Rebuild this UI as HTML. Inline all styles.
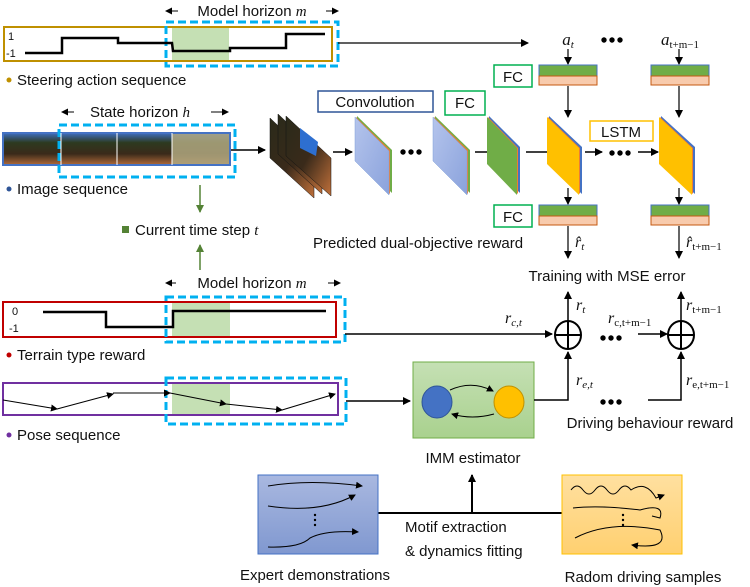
<!DOCTYPE html>
<html><head><meta charset="utf-8"><style>
html,body{margin:0;padding:0;background:#fff;}
svg{display:block;font-family:"Liberation Sans",sans-serif;}
.t{font-size:15px;fill:#111;}
.m{font-family:"Liberation Serif",serif;font-style:italic;fill:#111;}
</style></head><body>
<svg width="750" height="587" viewBox="0 0 750 587" xmlns="http://www.w3.org/2000/svg">
<defs>
<marker id="a" markerWidth="8" markerHeight="8" refX="7" refY="4" orient="auto" markerUnits="userSpaceOnUse"><path d="M0,0 L8,4 L0,8 z" fill="#000"/></marker>
<marker id="g" markerWidth="8" markerHeight="8" refX="7" refY="4" orient="auto" markerUnits="userSpaceOnUse"><path d="M0,0 L8,4 L0,8 z" fill="#548235"/></marker>
<marker id="s" markerWidth="7" markerHeight="7" refX="6" refY="3.5" orient="auto" markerUnits="userSpaceOnUse"><path d="M0,0 L7,3.5 L0,7 z" fill="#000"/></marker>
<linearGradient id="imgg" x1="0" y1="0" x2="0" y2="1"><stop offset="0" stop-color="#3f6fc0"/><stop offset="0.3" stop-color="#2d3a20"/><stop offset="0.65" stop-color="#3a2a1a"/><stop offset="1" stop-color="#b06a3a"/></linearGradient>
<linearGradient id="stk" x1="0" y1="0" x2="1" y2="1"><stop offset="0" stop-color="#2a2a1a"/><stop offset="0.5" stop-color="#3a2a1a"/><stop offset="1" stop-color="#c0703a"/></linearGradient>
<linearGradient id="imm" x1="0" y1="0" x2="0" y2="1"><stop offset="0" stop-color="#c5e0b4"/><stop offset="1" stop-color="#a9d18e"/></linearGradient>
<linearGradient id="exp" x1="0" y1="0" x2="0" y2="1"><stop offset="0" stop-color="#a9b8e0"/><stop offset="1" stop-color="#8098d0"/></linearGradient>
<linearGradient id="rnd" x1="0" y1="0" x2="0" y2="1"><stop offset="0" stop-color="#ffe0a0"/><stop offset="1" stop-color="#ffd070"/></linearGradient>
<linearGradient id="conv" x1="0" y1="0" x2="1" y2="1"><stop offset="0" stop-color="#b4c4ec"/><stop offset="1" stop-color="#8aa2dc"/></linearGradient>
</defs>

<!-- Steering -->
<text x="252" y="16" class="t" text-anchor="middle">Model horizon <tspan class="m">m</tspan></text>
<line x1="178" y1="11" x2="166" y2="11" stroke="#000" marker-end="url(#s)"/>
<line x1="326" y1="11" x2="338" y2="11" stroke="#000" marker-end="url(#s)"/>
<rect x="172" y="28" width="57" height="32" fill="#c5e0b4"/>
<rect x="4" y="27" width="328" height="34" fill="none" stroke="#bf9000" stroke-width="2"/>
<rect x="166" y="22" width="172" height="44" fill="none" stroke="#00b0f0" stroke-width="3" stroke-dasharray="8,4"/>
<text x="8" y="40" font-size="11" fill="#111">1</text>
<text x="6" y="57" font-size="11" fill="#111">-1</text>
<polyline points="25,53 62,53 62,38 118,38 118,43 172,43 173,51 230,51 230,48 286,48 286,34 325,34" fill="none" stroke="#000" stroke-width="2.5"/>
<line x1="338" y1="43" x2="528" y2="43" stroke="#000" stroke-width="1.2" marker-end="url(#a)"/>
<circle cx="9" cy="80" r="2.5" fill="#bf9000"/>
<text x="17" y="85" class="t">Steering action sequence</text>

<!-- Image seq -->
<text x="140" y="117" class="t" text-anchor="middle">State horizon <tspan class="m">h</tspan></text>
<line x1="74" y1="112" x2="62" y2="112" stroke="#000" marker-end="url(#s)"/>
<line x1="211" y1="112" x2="228" y2="112" stroke="#000" marker-end="url(#s)"/>
<rect x="3" y="133" width="227" height="32" fill="url(#imgg)" stroke="#4472c4" stroke-width="2"/>
<rect x="172" y="134" width="57" height="30" fill="#b0a880" opacity="0.85"/>
<line x1="61" y1="133" x2="61" y2="165" stroke="#fff"/><line x1="117" y1="133" x2="117" y2="165" stroke="#fff"/><line x1="172" y1="133" x2="172" y2="165" stroke="#fff"/>
<rect x="59" y="125" width="176" height="52" fill="none" stroke="#00b0f0" stroke-width="3" stroke-dasharray="8,4"/>
<circle cx="9" cy="189" r="2.5" fill="#2f5597"/>
<text x="17" y="194" class="t">Image sequence</text>
<line x1="231" y1="150" x2="265" y2="150" stroke="#000" stroke-width="1.5" marker-end="url(#a)"/>

<line x1="200" y1="185" x2="200" y2="212" stroke="#548235" stroke-width="1.5" marker-end="url(#g)"/>
<rect x="122" y="226" width="7" height="7" fill="#548235"/>
<text x="135" y="235" class="t">Current time step <tspan class="m">t</tspan></text>
<line x1="200" y1="270" x2="200" y2="245" stroke="#548235" stroke-width="1.5" marker-end="url(#g)"/>

<!-- image stack -->
<g>
<polygon points="270,118 314,160 314,198 270,158" fill="url(#stk)" stroke="#111" stroke-width="0.5"/>
<polygon points="278,114 322,156 322,194 278,154" fill="url(#stk)" stroke="#111" stroke-width="0.5"/>
<polygon points="286,116 331,158 331,196 286,156" fill="url(#stk)" stroke="#111" stroke-width="0.5"/>
<polygon points="300,128 318,142 316,156 300,148" fill="#2e6fd0"/>
</g>
<line x1="333" y1="152" x2="352" y2="152" stroke="#000" stroke-width="1.5" marker-end="url(#a)"/>

<!-- conv layers -->
<rect x="318" y="91" width="115" height="21" fill="#fff" stroke="#2f5597" stroke-width="1.5"/>
<text x="375" y="107" class="t" text-anchor="middle">Convolution</text>
<polygon points="357,116 392,150 392,193 357,159" fill="#70ad47"/>
<polygon points="356,117 390,150 390,194 356,160" fill="#ed7d31"/>
<polygon points="355,117 389,151 389,195 355,161" fill="url(#conv)" stroke="#7f9fd8" stroke-width="0.5"/>
<circle cx="403" cy="152" r="2.7"/><circle cx="411" cy="152" r="2.7"/><circle cx="419" cy="152" r="2.7"/>
<polygon points="435,116 470,150 470,193 435,159" fill="#70ad47"/>
<polygon points="434,117 468,150 468,194 434,160" fill="#ed7d31"/>
<polygon points="433,117 467,151 467,195 433,161" fill="url(#conv)" stroke="#7f9fd8" stroke-width="0.5"/>
<line x1="475" y1="152" x2="497" y2="152" stroke="#000" stroke-width="1.5" marker-end="url(#a)"/>
<rect x="445" y="91" width="40" height="24" fill="#fff" stroke="#00b050" stroke-width="1.5"/>
<text x="465" y="108" class="t" text-anchor="middle">FC</text>
<polygon points="489,116 520,147 520,193 489,162" fill="#4472c4"/>
<polygon points="488,117 518,148 518,194 488,163" fill="#ed7d31"/>
<polygon points="487,117 517,148 517,195 487,164" fill="#70ad47"/>
<line x1="526" y1="152" x2="555" y2="152" stroke="#000" stroke-width="1.5" marker-end="url(#a)"/>
<!-- yellow LSTM -->
<polygon points="549,116 582,147 582,194 549,163" fill="#4472c4"/>
<polygon points="548,117 580,148 580,194 548,164" fill="#ed7d31"/>
<polygon points="547,117 579,148 579,195 547,164" fill="#ffc000"/>
<line x1="585" y1="152" x2="602" y2="152" stroke="#000" stroke-width="1.5" marker-end="url(#a)"/>
<circle cx="612" cy="153" r="2.7"/><circle cx="620" cy="153" r="2.7"/><circle cx="628" cy="153" r="2.7"/>
<line x1="638" y1="152" x2="658" y2="152" stroke="#000" stroke-width="1.5" marker-end="url(#a)"/>
<polygon points="661,116 695,147 695,194 661,163" fill="#4472c4"/>
<polygon points="660,117 693,148 693,194 660,164" fill="#ed7d31"/>
<polygon points="659,117 692,148 692,195 659,164" fill="#ffc000"/>
<rect x="590" y="121" width="63" height="20" fill="#fff" stroke="#ffc000" stroke-width="1.5"/>
<text x="621" y="137" class="t" text-anchor="middle">LSTM</text>

<!-- FC top -->
<text x="568" y="45" font-size="17" class="m" text-anchor="middle">a<tspan font-size="11" dy="3">t</tspan></text>
<circle cx="604" cy="40" r="2.7"/><circle cx="612" cy="40" r="2.7"/><circle cx="620" cy="40" r="2.7"/>
<text x="680" y="45" font-size="17" class="m" text-anchor="middle">a<tspan font-size="11" dy="3" font-style="normal">t+m−1</tspan></text>
<line x1="568" y1="49" x2="568" y2="64" stroke="#000" stroke-width="1.2" marker-end="url(#a)"/>
<line x1="679" y1="49" x2="679" y2="64" stroke="#000" stroke-width="1.2" marker-end="url(#a)"/>
<rect x="494" y="65" width="38" height="22" fill="#fff" stroke="#00b050" stroke-width="1.5"/>
<text x="513" y="82" class="t" text-anchor="middle">FC</text>
<g stroke-width="1">
<rect x="539" y="65" width="58" height="11" fill="#70ad47" stroke="#4472c4"/><rect x="539" y="76" width="58" height="9" fill="#f8cbad" stroke="#c55a11"/>
<rect x="651" y="65" width="58" height="11" fill="#70ad47" stroke="#4472c4"/><rect x="651" y="76" width="58" height="9" fill="#f8cbad" stroke="#c55a11"/>
<rect x="539" y="205" width="58" height="11" fill="#70ad47" stroke="#4472c4"/><rect x="539" y="216" width="58" height="9" fill="#f8cbad" stroke="#c55a11"/>
<rect x="651" y="205" width="58" height="11" fill="#70ad47" stroke="#4472c4"/><rect x="651" y="216" width="58" height="9" fill="#f8cbad" stroke="#c55a11"/>
</g>
<line x1="568" y1="86" x2="568" y2="117" stroke="#000" stroke-width="1.2" marker-end="url(#a)"/>
<line x1="679" y1="86" x2="679" y2="117" stroke="#000" stroke-width="1.2" marker-end="url(#a)"/>
<line x1="568" y1="188" x2="568" y2="204" stroke="#000" stroke-width="1.2" marker-end="url(#a)"/>
<line x1="679" y1="188" x2="679" y2="204" stroke="#000" stroke-width="1.2" marker-end="url(#a)"/>
<rect x="494" y="205" width="38" height="22" fill="#fff" stroke="#00b050" stroke-width="1.5"/>
<text x="513" y="222" class="t" text-anchor="middle">FC</text>
<line x1="568" y1="226" x2="568" y2="258" stroke="#000" stroke-width="1.2" marker-end="url(#a)"/>
<line x1="679" y1="226" x2="679" y2="258" stroke="#000" stroke-width="1.2" marker-end="url(#a)"/>
<text x="313" y="248" class="t">Predicted dual-objective reward</text>
<text x="575" y="247" font-size="16" class="m">r̂<tspan font-size="11" dy="3">t</tspan></text>
<text x="686" y="247" font-size="16" class="m">r̂<tspan font-size="11" dy="3" font-style="normal">t+m−1</tspan></text>
<text x="607" y="281" class="t" text-anchor="middle">Training with MSE error</text>

<!-- Terrain -->
<text x="252" y="288" class="t" text-anchor="middle">Model horizon <tspan class="m">m</tspan></text>
<line x1="176" y1="283" x2="166" y2="283" stroke="#000" marker-end="url(#s)"/>
<line x1="328" y1="283" x2="340" y2="283" stroke="#000" marker-end="url(#s)"/>
<rect x="172" y="302" width="58" height="34" fill="#c5e0b4"/>
<rect x="3" y="302" width="333" height="35" fill="none" stroke="#c00000" stroke-width="2"/>
<rect x="166" y="297" width="179" height="45" fill="none" stroke="#00b0f0" stroke-width="3" stroke-dasharray="8,4"/>
<text x="12" y="315" font-size="11" fill="#111">0</text>
<text x="9" y="332" font-size="11" fill="#111">-1</text>
<polyline points="43,312 106,312 106,327 173,327 173,311 326,311" fill="none" stroke="#000" stroke-width="2.5"/>
<circle cx="9" cy="355" r="2.5" fill="#c00000"/>
<text x="17" y="360" class="t">Terrain type reward</text>
<line x1="345" y1="334" x2="552" y2="334" stroke="#000" stroke-width="1.5" marker-end="url(#a)"/>
<text x="505" y="323" font-size="16" class="m">r<tspan font-size="11" dy="3">c,t</tspan></text>

<!-- plus circles -->
<ellipse cx="568" cy="335" rx="13" ry="14" fill="#fff" stroke="#000" stroke-width="2"/>
<line x1="555" y1="335" x2="581" y2="335" stroke="#000" stroke-width="2"/><line x1="568" y1="321" x2="568" y2="349" stroke="#000" stroke-width="2"/>
<ellipse cx="681" cy="335" rx="13" ry="14" fill="#fff" stroke="#000" stroke-width="2"/>
<line x1="668" y1="335" x2="694" y2="335" stroke="#000" stroke-width="2"/><line x1="681" y1="321" x2="681" y2="349" stroke="#000" stroke-width="2"/>
<line x1="568" y1="321" x2="568" y2="292" stroke="#000" stroke-width="1.5" marker-end="url(#a)"/>
<line x1="681" y1="321" x2="681" y2="292" stroke="#000" stroke-width="1.5" marker-end="url(#a)"/>
<text x="576" y="310" font-size="16" class="m">r<tspan font-size="11" dy="3">t</tspan></text>
<text x="686" y="310" font-size="16" class="m">r<tspan font-size="11" dy="3" font-style="normal">t+m−1</tspan></text>
<text x="608" y="323" font-size="16" class="m">r<tspan font-size="11" dy="3" font-style="normal">c,t+m−1</tspan></text>
<circle cx="603" cy="338" r="2.7"/><circle cx="611" cy="338" r="2.7"/><circle cx="619" cy="338" r="2.7"/>
<line x1="638" y1="334" x2="667" y2="334" stroke="#000" stroke-width="1.5" marker-end="url(#a)"/>

<!-- Pose -->
<rect x="172" y="384" width="58" height="30" fill="#c5e0b4"/>
<rect x="3" y="383" width="335" height="32" fill="none" stroke="#7030a0" stroke-width="2"/>
<rect x="166" y="378" width="180" height="46" fill="none" stroke="#00b0f0" stroke-width="3" stroke-dasharray="8,4"/>
<g stroke="#000" stroke-width="1" fill="none">
<line x1="3" y1="400" x2="57" y2="409" marker-end="url(#s)"/>
<line x1="57" y1="409" x2="113" y2="394" marker-end="url(#s)"/>
<line x1="113" y1="393" x2="170" y2="393" marker-end="url(#s)"/>
<line x1="170" y1="393" x2="226" y2="404" marker-end="url(#s)"/>
<line x1="226" y1="404" x2="282" y2="410" marker-end="url(#s)"/>
<line x1="282" y1="410" x2="335" y2="394" marker-end="url(#s)"/>
</g>
<circle cx="9" cy="435" r="2.5" fill="#7030a0"/>
<text x="17" y="440" class="t">Pose sequence</text>
<line x1="346" y1="401" x2="410" y2="401" stroke="#000" stroke-width="1.5" marker-end="url(#a)"/>

<!-- IMM -->
<rect x="413" y="362" width="121" height="76" fill="url(#imm)" stroke="#70ad47" stroke-width="1"/>
<ellipse cx="437" cy="402" rx="15" ry="16" fill="#4472c4" stroke="#2f5597"/>
<ellipse cx="509" cy="402" rx="15" ry="16" fill="#ffc000" stroke="#bf9000"/>
<path d="M450,390 Q472,380 493,391" fill="none" stroke="#000" stroke-width="1" marker-end="url(#s)"/>
<path d="M494,414 Q472,420 452,414" fill="none" stroke="#000" stroke-width="1" marker-end="url(#s)"/>
<polyline points="534,400 568,400 568,352" fill="none" stroke="#000" stroke-width="1.5" marker-end="url(#a)"/>
<polyline points="648,400 681,400 681,352" fill="none" stroke="#000" stroke-width="1.5" marker-end="url(#a)"/>
<text x="576" y="385" font-size="16" class="m">r<tspan font-size="11" dy="3">e,t</tspan></text>
<text x="686" y="385" font-size="16" class="m">r<tspan font-size="11" dy="3" font-style="normal">e,t+m−1</tspan></text>
<circle cx="603" cy="402" r="2.7"/><circle cx="611" cy="402" r="2.7"/><circle cx="619" cy="402" r="2.7"/>
<text x="650" y="428" class="t" text-anchor="middle">Driving behaviour reward</text>
<text x="473" y="463" class="t" text-anchor="middle">IMM estimator</text>

<!-- bottom -->
<line x1="472" y1="513" x2="472" y2="475" stroke="#000" stroke-width="2" marker-end="url(#a)"/>
<line x1="378" y1="513" x2="562" y2="513" stroke="#000" stroke-width="2"/>
<rect x="258" y="475" width="120" height="79" fill="url(#exp)" stroke="#4472c4"/>
<g fill="none" stroke="#000" stroke-width="1">
<path d="M268,486 Q310,479 362,486" marker-end="url(#s)"/>
<path d="M268,506 Q320,514 355,495" marker-end="url(#s)"/>
<path d="M268,547 Q300,548 310,538 Q325,530 358,532" marker-end="url(#s)"/>
</g>
<circle cx="315" cy="515" r="1.2"/><circle cx="315" cy="520" r="1.2"/><circle cx="315" cy="525" r="1.2"/>
<rect x="562" y="475" width="120" height="79" fill="url(#rnd)" stroke="#ffc000"/>
<g fill="none" stroke="#000" stroke-width="1">
<path d="M571,490 q6,-8 12,0 t12,0 t12,0 t12,0 t12,0 q15,-10 25,8 l8,-3" marker-end="url(#s)"/>
<path d="M573,508 Q600,505 640,510 Q665,503 660,518 l-8,-2"/>
<path d="M575,538 Q610,520 660,530 Q670,550 632,545" marker-end="url(#s)"/>
</g>
<circle cx="623" cy="515" r="1.2"/><circle cx="623" cy="520" r="1.2"/><circle cx="623" cy="525" r="1.2"/>
<text x="405" y="532" class="t">Motif extraction</text>
<text x="405" y="556" class="t">&amp; dynamics fitting</text>
<text x="315" y="580" class="t" text-anchor="middle">Expert demonstrations</text>
<text x="643" y="582" class="t" text-anchor="middle">Radom driving samples</text>
</svg>
</body></html>
